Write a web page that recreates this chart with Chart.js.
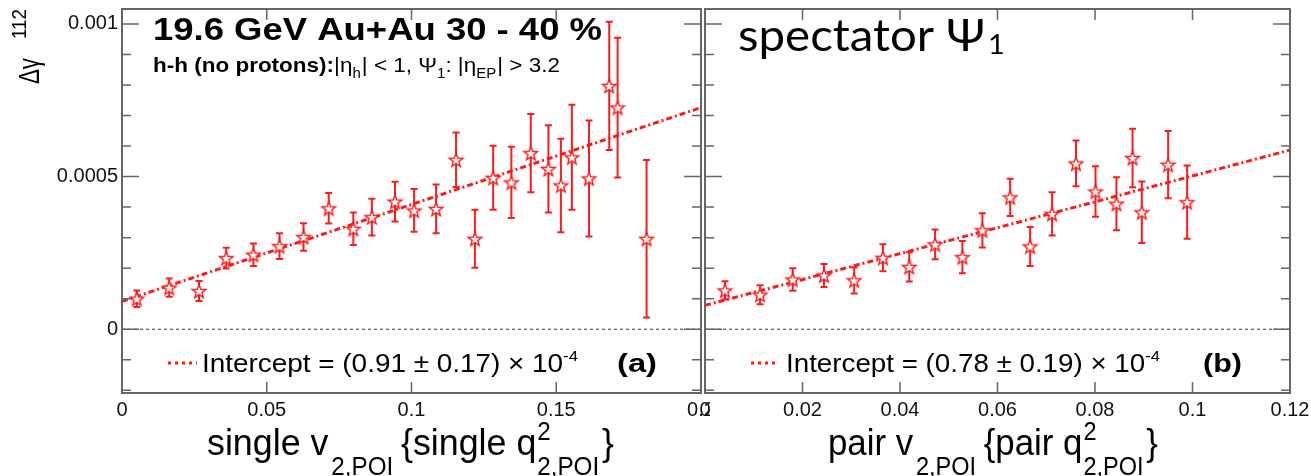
<!DOCTYPE html>
<html>
<head>
<meta charset="utf-8">
<script src="https://cdn.jsdelivr.net/npm/chart.js@4.4.1/dist/chart.umd.min.js"></script>
<style>
  body { margin: 0; background: #fff; width: 1311px; height: 476px; overflow: hidden; position: relative; }
  canvas { position: absolute; top: 0; }
  #chartA { left: 0; }
  #chartB { left: 695px; }
</style>
</head>
<body>
<canvas id="chartA" width="710" height="476"></canvas>
<canvas id="chartB" width="616" height="476"></canvas>
<script>
// delta gamma values are in units of 1e-4
const singleV2 = [0.0051, 0.0163, 0.0266, 0.0360, 0.0454, 0.0544, 0.0627, 0.0714, 0.0799, 0.0863, 0.0943, 0.1009, 0.1085,
  0.1154, 0.1219, 0.1282, 0.1345, 0.1412, 0.1473, 0.1516, 0.1554, 0.1613, 0.1683, 0.1712, 0.1812];
const singleDgamma = [1.00, 1.36, 1.25, 2.33, 2.44, 2.72, 3.02, 3.96, 3.29, 3.67, 4.18, 3.89, 3.94,
  5.55, 2.96, 4.96, 4.81, 5.77, 5.25, 4.71, 5.63, 4.94, 7.97, 7.26, 2.96];
const singleErr = [0.27, 0.30, 0.33, 0.34, 0.37, 0.42, 0.45, 0.50, 0.53, 0.60, 0.65, 0.70, 0.80,
  0.89, 0.95, 1.05, 1.17, 1.28, 1.43, 1.53, 1.72, 1.90, 2.10, 2.29, 2.58];
const singleFitX = [0, 0.2];
const singleFitY = [0.91, 7.26];

const pairV2 = [0.0041, 0.0113, 0.0180, 0.0244, 0.0306, 0.0365, 0.0419, 0.0472, 0.0528, 0.0569, 0.0626, 0.0667,
  0.0712, 0.0761, 0.0801, 0.0844, 0.0877, 0.0896, 0.0950, 0.0989];
const pairDgamma = [1.27, 1.13, 1.63, 1.76, 1.60, 2.34, 2.04, 2.78, 2.36, 3.24, 4.32, 2.71,
  3.78, 5.43, 4.51, 4.11, 5.61, 3.83, 5.39, 4.16];
const pairErr = [0.30, 0.31, 0.37, 0.38, 0.43, 0.44, 0.48, 0.49, 0.53, 0.56, 0.61, 0.64,
  0.71, 0.75, 0.83, 0.87, 0.96, 1.01, 1.10, 1.20];
const pairFitX = [0, 0.12];
const pairFitY = [0.78, 5.87];

const yMin = -2.09, yMax = 10.49;
const yTicks = [0, 5, 10];
const yTickLabels = ["0", "0.0005", "0.001"];
const singleXTicks = [0, 0.05, 0.1, 0.15, 0.2];
const singleXTickLabels = ["0", "0.05", "0.1", "0.15", "0.2"];
const pairXTicks = [0, 0.02, 0.04, 0.06, 0.08, 0.1, 0.12];
const pairXTickLabels = ["0", "0.02", "0.04", "0.06", "0.08", "0.1", "0.12"];

const FONT = '"Liberation Sans", Arial, sans-serif';
const RED = "#ff1a1a";
const FRAME = "#666";

// open star marker
const star = document.createElement("canvas");
star.width = 18; star.height = 18;
(function () {
  const g = star.getContext("2d");
  g.beginPath();
  for (let i = 0; i < 10; i++) {
    const r = i % 2 ? 3.0 : 7.2;
    const a = -Math.PI / 2 + i * Math.PI / 5;
    const px = 9 + r * Math.cos(a), py = 9.7 + r * Math.sin(a);
    if (i) g.lineTo(px, py); else g.moveTo(px, py);
  }
  g.closePath();
  g.fillStyle = "#fff"; g.fill();
  g.strokeStyle = RED; g.lineWidth = 1.4; g.stroke();
})();

// text with sub/superscripts, squeezed to a given width
function drawRich(ctx, x, y, parts, width) {
  const fontOf = p => (p.bold ? "bold " : "") + p.size + "px " + (p.family || FONT);
  const widths = parts.map(p => {
    ctx.font = fontOf(p);
    const w = p.stack ? Math.max(ctx.measureText(p.stack[0]).width, ctx.measureText(p.stack[1]).width)
                      : ctx.measureText(p.t).width;
    return w + (p.gap || 0);
  });
  const total = widths.reduce((s, w) => s + w, 0);
  ctx.save();
  ctx.translate(x, y);
  if (width) ctx.scale(width / total, 1);
  ctx.fillStyle = "#000";
  ctx.textBaseline = "alphabetic";
  ctx.textAlign = "left";
  let cx = 0;
  parts.forEach((p, i) => {
    ctx.font = fontOf(p);
    if (p.stack) {
      ctx.fillText(p.stack[0], cx, p.dy[0]);
      ctx.fillText(p.stack[1], cx, p.dy[1]);
    } else {
      ctx.fillText(p.t, cx, p.dy || 0);
    }
    cx += widths[i];
  });
  ctx.restore();
}

function legendLine(ctx, x0, x1, y) {
  ctx.save();
  ctx.strokeStyle = RED;
  ctx.lineWidth = 3;
  ctx.setLineDash([3, 4]);
  ctx.beginPath(); ctx.moveTo(x0, y); ctx.lineTo(x1, y); ctx.stroke();
  ctx.restore();
}

function makePanel(id, p) {
  const errorBars = {
    id: "errorBars",
    beforeDatasetsDraw(chart) {
      const { ctx, chartArea: a, scales: { x, y } } = chart;
      ctx.save();
      ctx.beginPath(); ctx.rect(a.left, a.top, a.right - a.left, a.bottom - a.top); ctx.clip();
      ctx.strokeStyle = RED; ctx.lineWidth = 2;
      p.xs.forEach((v, i) => {
        const px = x.getPixelForValue(v);
        const lo = y.getPixelForValue(p.ys[i] - p.errs[i]);
        const hi = y.getPixelForValue(p.ys[i] + p.errs[i]);
        ctx.beginPath();
        ctx.moveTo(px, lo); ctx.lineTo(px, hi);
        ctx.moveTo(px - 3.5, lo); ctx.lineTo(px + 3.5, lo);
        ctx.moveTo(px - 3.5, hi); ctx.lineTo(px + 3.5, hi);
        ctx.stroke();
      });
      ctx.restore();
    }
  };

  const frame = {
    id: "frame",
    afterDatasetsDraw(chart) {
      const { ctx, chartArea: a, scales: { x, y } } = chart;
      ctx.save();
      ctx.strokeStyle = FRAME;
      ctx.lineWidth = 1.5;
      ctx.beginPath();
      for (let v = Math.ceil(yMin); v <= yMax; v++) {
        const py = y.getPixelForValue(v);
        const len = v % 5 === 0 ? 17 : 9;
        ctx.moveTo(a.left, py); ctx.lineTo(a.left + len, py);
        ctx.moveTo(a.right, py); ctx.lineTo(a.right - len, py);
      }
      p.xTicks.forEach(v => {
        const px = x.getPixelForValue(v);
        ctx.moveTo(px, a.bottom); ctx.lineTo(px, a.bottom - 11);
        ctx.moveTo(px, a.top); ctx.lineTo(px, a.top + 11);
      });
      ctx.stroke();
      ctx.lineWidth = 2;
      ctx.strokeRect(a.left, a.top, a.right - a.left, a.bottom - a.top);
      ctx.restore();
    }
  };

  const texts = {
    id: "texts",
    afterDraw(chart) { p.texts(chart.ctx); }
  };

  return new Chart(document.getElementById(id), {
    type: "scatter",
    data: {
      datasets: [
        {
          data: p.xs.map((v, i) => ({ x: v, y: p.ys[i] })),
          pointStyle: star,
          pointRadius: 8,
          pointHoverRadius: 8
        },
        {
          data: p.fitX.map((v, i) => ({ x: v, y: p.fitY[i] })),
          showLine: true,
          borderColor: RED,
          borderWidth: 3,
          borderDash: [6, 3, 2, 3],
          pointRadius: 0
        },
        {
          data: [{ x: p.xTicks[0], y: 0 }, { x: p.xTicks[p.xTicks.length - 1], y: 0 }],
          showLine: true,
          borderColor: "#333",
          borderWidth: 1,
          borderDash: [3, 3],
          pointRadius: 0
        }
      ]
    },
    options: {
      responsive: false,
      animation: false,
      events: [],
      layout: { padding: p.padding },
      plugins: { legend: { display: false }, tooltip: { enabled: false } },
      scales: {
        x: {
          type: "linear",
          min: p.xTicks[0],
          max: p.xTicks[p.xTicks.length - 1],
          grid: { display: false, drawTicks: false },
          border: { display: false },
          afterBuildTicks: s => { s.ticks = p.xTicks.map(v => ({ value: v })); },
          afterFit: s => { s.height = 83; s.paddingLeft = 0; s.paddingRight = 0; },
          ticks: {
            autoSkip: false, maxRotation: 0, padding: 5, color: "#111",
            font: { family: FONT, size: 20 },
            callback: (v, i) => p.xLabels[i]
          }
        },
        y: {
          type: "linear",
          min: yMin,
          max: yMax,
          grid: { display: false, drawTicks: false },
          border: { display: false },
          afterBuildTicks: s => { s.ticks = yTicks.map(v => ({ value: v })); },
          afterFit: s => { s.width = p.yWidth; s.paddingTop = 0; s.paddingBottom = 0; },
          ticks: {
            display: p.yLabels, padding: 4, color: "#111",
            font: { family: FONT, size: 20 },
            callback: (v, i) => yTickLabels[i]
          }
        }
      }
    },
    plugins: [errorBars, frame, texts]
  });
}

makePanel("chartA", {
  xs: singleV2, ys: singleDgamma, errs: singleErr, fitX: singleFitX, fitY: singleFitY,
  xTicks: singleXTicks, xLabels: singleXTickLabels, yLabels: true, yWidth: 122,
  padding: { top: 8, right: 7, left: 0, bottom: 0 },
  texts(ctx) {
    drawRich(ctx, 153, 40, [{ t: "19.6 GeV Au+Au 30 - 40 %", size: 31, bold: true }], 449);
    drawRich(ctx, 153, 72, [
      { t: "h-h (no protons):", size: 21, bold: true },
      { t: "|η", size: 21 }, { t: "h", size: 14, dy: 6, gap: 1 },
      { t: "| < 1, Ψ", size: 21 }, { t: "1", size: 14, dy: 6 },
      { t: ": |η", size: 21 }, { t: "EP", size: 14, dy: 6, gap: 1 },
      { t: "| > 3.2", size: 21 }
    ], 407);
    // y axis title
    ctx.save();
    ctx.translate(39, 84);
    ctx.rotate(-Math.PI / 2);
    drawRich(ctx, 0, 0, [{ t: "Δγ", size: 30 }], 26);
    drawRich(ctx, 45, -13, [{ t: "112", size: 21 }], 30);
    ctx.restore();
    legendLine(ctx, 168, 197, 363);
    drawRich(ctx, 202, 372, [
      { t: "Intercept = (0.91 ± 0.17) × 10", size: 25 }, { t: "-4", size: 15, dy: -11 }
    ], 376);
    drawRich(ctx, 617, 372, [{ t: "(a)", size: 25, bold: true }], 40);
    drawRich(ctx, 207, 455, [
      { t: "single v", size: 37, gap: 3 },
      { t: "2,POI", size: 25, dy: 20, gap: 8 },
      { t: "{single q", size: 37, gap: 1 },
      { stack: ["2", "2,POI"], size: 25, dy: [-15, 20], gap: 3 },
      { t: "}", size: 37 }
    ], 407);
  }
});

makePanel("chartB", {
  xs: pairV2, ys: pairDgamma, errs: pairErr, fitX: pairFitX, fitY: pairFitY,
  xTicks: pairXTicks, xLabels: pairXTickLabels, yLabels: false, yWidth: 10,
  padding: { top: 8, right: 21, left: 0, bottom: 0 },
  texts(ctx) {
    const o = 695;
    drawRich(ctx, 738 - o, 51, [
      { t: "spectator Ψ", size: 44, family: "Lato, sans-serif", gap: 3 },
      { t: "1", size: 27, family: "Lato, sans-serif", dy: 3 }
    ], 267);
    legendLine(ctx, 751 - o, 779 - o, 363);
    drawRich(ctx, 786 - o, 372, [
      { t: "Intercept = (0.78 ± 0.19) × 10", size: 25 }, { t: "-4", size: 15, dy: -11 }
    ], 374);
    drawRich(ctx, 1203 - o, 372, [{ t: "(b)", size: 25, bold: true }], 39);
    drawRich(ctx, 828 - o, 455, [
      { t: "pair v", size: 37, gap: 3 },
      { t: "2,POI", size: 25, dy: 20, gap: 8 },
      { t: "{pair q", size: 37, gap: 1 },
      { stack: ["2", "2,POI"], size: 25, dy: [-15, 20], gap: 3 },
      { t: "}", size: 37 }
    ], 330);
  }
});
</script>
</body>
</html>
